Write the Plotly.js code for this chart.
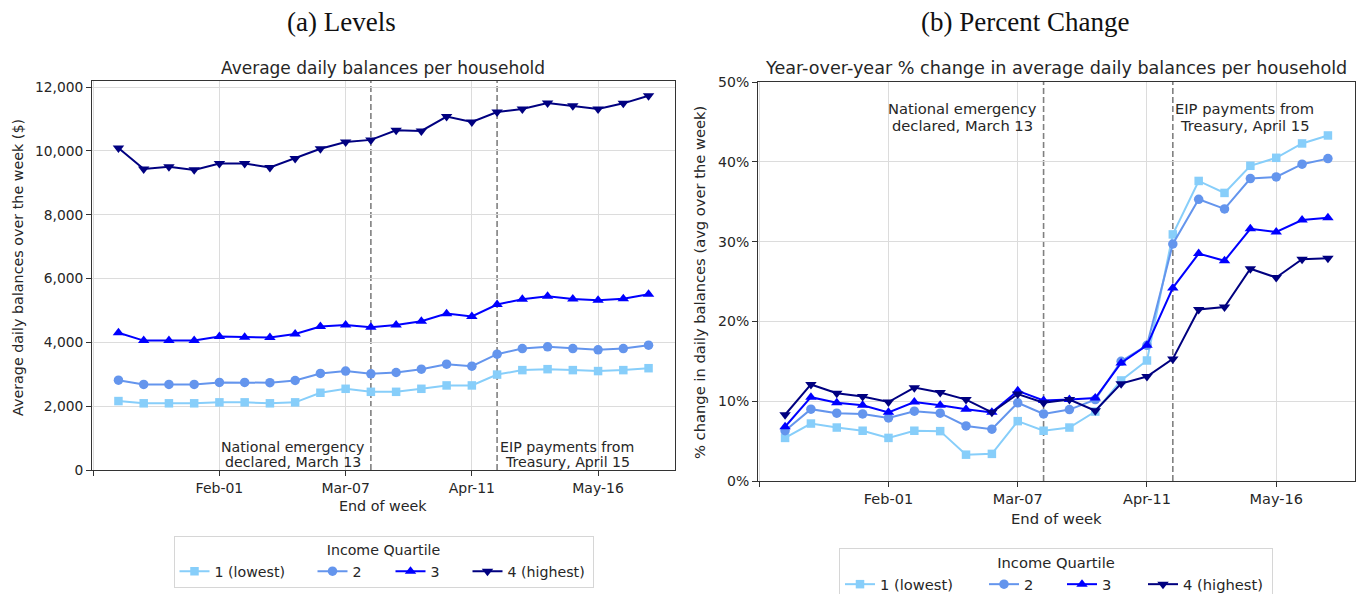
<!DOCTYPE html>
<html>
<head>
<meta charset="utf-8">
<script src="https://cdn.plot.ly/plotly-3.0.1.min.js"></script>
<style>html,body{margin:0;padding:0;background:#fff;}#chart{width:1357px;height:594px;}</style>
</head>
<body>
<div id="chart"></div>
<script>
// ---- data ----
const weeks = ['2020-01-04','2020-01-11','2020-01-18','2020-01-25','2020-02-01','2020-02-08','2020-02-15','2020-02-22','2020-02-29','2020-03-07','2020-03-14','2020-03-21','2020-03-28','2020-04-04','2020-04-11','2020-04-18','2020-04-25','2020-05-02','2020-05-09','2020-05-16','2020-05-23','2020-05-30'];
const quartileNames = ['1 (lowest)', '2', '3', '4 (highest)'];

const levelsQ1 = [2160,2090,2090,2090,2120,2120,2090,2120,2420,2545,2450,2450,2545,2650,2650,2990,3130,3160,3130,3100,3130,3190];
const levelsQ2 = [2815,2680,2680,2680,2745,2745,2735,2805,3025,3100,3015,3055,3160,3315,3255,3630,3805,3860,3805,3765,3805,3910];
const levelsQ3 = [4300,4055,4055,4055,4180,4160,4150,4265,4495,4545,4475,4545,4660,4900,4810,5185,5350,5445,5360,5320,5370,5505];
const levelsQ4 = [10090,9430,9500,9405,9605,9605,9480,9760,10065,10280,10345,10645,10625,11075,10905,11220,11315,11500,11415,11315,11490,11730];

const pctQ1 = [5.4,7.2,6.7,6.3,5.4,6.3,6.25,3.3,3.4,7.5,6.3,6.7,8.7,12.6,15.1,30.9,37.6,36.1,39.5,40.5,42.3,43.3];
const pctQ2 = [6.3,9.0,8.5,8.4,7.9,8.75,8.5,6.9,6.5,9.8,8.4,8.95,10.2,15.0,17.0,29.7,35.3,34.1,37.9,38.1,39.7,40.4];
const pctQ3 = [6.8,10.5,9.8,9.5,8.6,9.9,9.5,9.0,8.6,11.3,10.1,10.2,10.4,14.8,17.0,24.2,28.5,27.6,31.6,31.2,32.7,33.0];
const pctQ4 = [8.3,12.1,11.0,10.6,9.9,11.7,11.1,10.2,8.6,10.9,9.8,10.2,8.8,12.2,13.1,15.3,21.5,21.8,26.6,25.5,27.8,27.9];

const xTickVals = ['2019-12-28','2020-02-01','2020-03-07','2020-04-11','2020-05-16'];
const xTickText = ['', 'Feb-01', 'Mar-07', 'Apr-11', 'May-16'];
const levelTicks = [0,2000,4000,6000,8000,10000,12000];
const pctTicks = [0,10,20,30,40,50];
const pctTickText = ['0%','10%','20%','30%','40%','50%'];

const eventDates = ['2020-03-14', '2020-04-18'];
const eventLines = [['National emergency', 'declared, March 13'], ['EIP payments from', 'Treasury, April 15']];

// ---- styles ----
const colors = ['#87CEFA', '#6495ED', '#0000FF', '#000080'];
const symbols = ['square', 'circle', 'triangle-up', 'triangle-down'];
const msizes = [8.5, 9.5, 10, 10];
const legendWidthsL = [93, 33, 32, 80];
const legendWidthsR = [99, 33, 36, 84];
const FONT = 'DejaVu Sans, sans-serif';
const TXT = '#262626';

const levels = [levelsQ1, levelsQ2, levelsQ3, levelsQ4];
const pcts = [pctQ1, pctQ2, pctQ3, pctQ4];

const traces = [];
for (let i = 0; i < 4; i++) {
  traces.push({
    x: weeks, y: levels[i], xaxis: 'x', yaxis: 'y', type: 'scatter', mode: 'lines+markers',
    name: quartileNames[i], legend: 'legend', legendwidth: legendWidthsL[i],
    line: {color: colors[i], width: 2},
    marker: {color: colors[i], symbol: symbols[i], size: msizes[i]}
  });
}
for (let i = 0; i < 4; i++) {
  traces.push({
    x: weeks, y: pcts[i], xaxis: 'x2', yaxis: 'y2', type: 'scatter', mode: 'lines+markers',
    name: quartileNames[i], legend: 'legend2', legendwidth: legendWidthsR[i],
    line: {color: colors[i], width: 2},
    marker: {color: colors[i], symbol: symbols[i], size: msizes[i]}
  });
}

const W = 1357, H = 594;
const px = v => v / W;
const py = v => 1 - v / H;

const xRange = ['2019-12-27 16:00', '2020-06-06 08:00'];
const axisCommon = {
  showline: true, mirror: true, linecolor: '#333', linewidth: 1,
  ticks: 'outside', ticklen: 5, tickcolor: '#333', tickwidth: 1,
  showgrid: true, gridcolor: '#dcdcdc', gridwidth: 1, zeroline: false,
  fixedrange: true, automargin: false
};

const shapes = [];
[['x','y'],['x2','y2']].forEach(([xa, ya]) => {
  eventDates.forEach(d => shapes.push({
    type: 'line', xref: xa, yref: ya + ' domain', x0: d, x1: d, y0: 0, y1: 1,
    line: {color: '#808080', width: 1.6, dash: '6px,3px'}, layer: 'below'
  }));
});

const ann = (o, size) => Object.assign({showarrow: false, font: {family: FONT, size: size || 14.2, color: TXT}}, o);
const annotations = [
  ann({text: '(a) Levels', xref: 'paper', yref: 'paper', x: px(341), y: py(22), xanchor: 'center', yanchor: 'middle', font: {family: 'Liberation Serif, serif', size: 27, color: '#111'}}),
  ann({text: '(b) Percent Change', xref: 'paper', yref: 'paper', x: px(1025), y: py(22), xanchor: 'center', yanchor: 'middle', font: {family: 'Liberation Serif, serif', size: 27, color: '#111'}}),
  ann({text: 'Average daily balances per household', xref: 'paper', yref: 'paper', x: px(383.5), y: py(68), xanchor: 'center', yanchor: 'middle'}, 17),
  ann({text: 'Year-over-year % change in average daily balances per household', xref: 'paper', yref: 'paper', x: px(1056), y: py(68), xanchor: 'center', yanchor: 'middle'}, 17.6),
  ann({text: 'End of week', xref: 'paper', yref: 'paper', x: px(383.5), y: py(506), xanchor: 'center', yanchor: 'middle'}, 14.3),
  ann({text: 'End of week', xref: 'paper', yref: 'paper', x: px(1056), y: py(518), xanchor: 'center', yanchor: 'middle'}, 14.8),
  ann({text: 'Average daily balances over the week ($)', xref: 'paper', yref: 'paper', x: px(18), y: py(268), xanchor: 'center', yanchor: 'middle', textangle: -90}, 14.3),
  ann({text: '% change in daily balances (avg over the week)', xref: 'paper', yref: 'paper', x: px(699), y: py(283), xanchor: 'center', yanchor: 'middle', textangle: -90}, 14.7)
];

// event labels: each line centred within a block that sits beside the dashed line
const evHalfL = [76, 68];   // half block widths, left panel (px)
const evHalfR = [79, 70];   // half block widths, right panel (px)
const side = [-1, 1];       // block left (-1) / right (+1) of the line
for (let e = 0; e < 2; e++) {
  for (let k = 0; k < 2; k++) {
    annotations.push(ann({text: eventLines[e][k], xref: 'x', yref: 'y', x: eventDates[e], y: 0,
      xanchor: 'center', yanchor: 'middle', xshift: side[e] * (evHalfL[e] + 2), yshift: k === 0 ? 23 : 8}, 14.2));
    annotations.push(ann({text: eventLines[e][k], xref: 'x2', yref: 'y2', x: eventDates[e], y: 50,
      xanchor: 'center', yanchor: 'middle', xshift: side[e] * (evHalfR[e] + 2), yshift: k === 0 ? -26 : -43}, 14.7));
  }
}

const legendCommon = {
  orientation: 'h', xanchor: 'center', yanchor: 'top',
  bgcolor: '#fff', bordercolor: '#d6d6d6', borderwidth: 1
};

const layout = {
  width: W, height: H,
  margin: {l: 0, r: 0, t: 0, b: 0, autoexpand: false},
  paper_bgcolor: '#fff', plot_bgcolor: '#fff',
  font: {family: FONT, color: TXT},
  xaxis: Object.assign({}, axisCommon, {domain: [px(92), px(675)], anchor: 'y', type: 'date', range: xRange, tickvals: xTickVals, ticktext: xTickText, ticklabelstandoff: 0, tickfont: {family: FONT, size: 14, color: TXT}}),
  yaxis: Object.assign({}, axisCommon, {domain: [py(470), py(81)], anchor: 'x', range: [0, 12190], tickvals: levelTicks, tickformat: ',', tickfont: {family: FONT, size: 13.8, color: TXT}}),
  xaxis2: Object.assign({}, axisCommon, {domain: [px(758), px(1355)], anchor: 'y2', type: 'date', range: xRange, tickvals: xTickVals, ticktext: xTickText, ticklabelstandoff: 0, tickfont: {family: FONT, size: 14.5, color: TXT}}),
  yaxis2: Object.assign({}, axisCommon, {domain: [py(481), py(82)], anchor: 'x2', range: [0, 50], tickvals: pctTicks, ticktext: pctTickText, tickfont: {family: FONT, size: 14, color: TXT}}),
  shapes: shapes,
  annotations: annotations,
  legend: Object.assign({}, legendCommon, {x: px(383.5), y: py(536),
    font: {family: FONT, size: 14.2, color: TXT},
    title: {text: 'Income Quartile', side: 'top center', font: {family: FONT, size: 14.2, color: TXT}}}),
  legend2: Object.assign({}, legendCommon, {x: px(1056), y: py(548),
    font: {family: FONT, size: 14.7, color: TXT},
    title: {text: 'Income Quartile', side: 'top center', font: {family: FONT, size: 14.7, color: TXT}}}),
  showlegend: true
};

Plotly.newPlot('chart', traces, layout, {displayModeBar: false, staticPlot: true});
</script>
</body>
</html>
